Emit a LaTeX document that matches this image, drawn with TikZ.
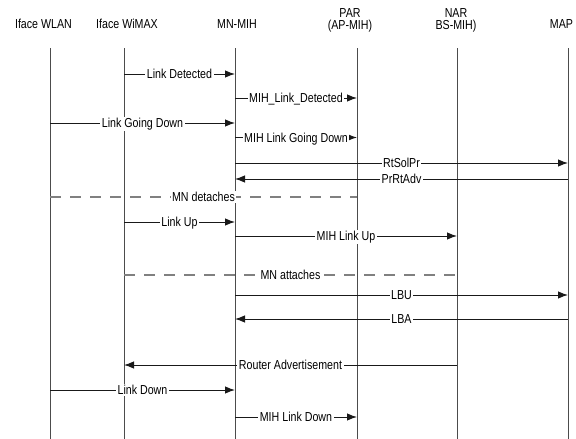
\documentclass[tikz,border=0pt]{standalone}
\usepackage{fontspec}
\setmainfont{Liberation Sans}[FakeStretch=0.82]
\usetikzlibrary{arrows.meta}
\tikzset{
  life/.style={draw=black!70, line width=1pt},
  msg/.style={draw=black!90, line width=1pt, -{Latex[length=10pt,width=7.5pt]}},
  sep/.style={draw=black!50, line width=1.6pt, dash pattern=on 11pt off 9pt},
  lbl/.style={fill=white, inner xsep=1.5pt, inner ysep=1pt, anchor=base, yshift=-4.6pt, font=\fontsize{13}{13}\selectfont},
  head/.style={inner sep=0pt, align=center, font=\fontsize{13}{12.5}\selectfont}
}
\begin{document}
\begin{tikzpicture}[x=1pt,y=-1pt]
\useasboundingbox (0,0) rectangle (576,439);
% headers
\node[head] (hwlan) at (43.5,24) {Iface WLAN};
\node[head] (hwimax) at (127,24) {Iface WiMAX};
\node[head] (hmn) at (237,24) {MN-MIH};
\node[head] (hpar) at (350,20.5) {PAR\\(AP-MIH)};
\node[head] (hnar) at (456,20.5) {NAR\\BS-MIH)};
\node[head] (hmap) at (561.5,24) {MAP};
% lifelines
\coordinate (wlan) at (50,48);
\coordinate (wimax) at (124,48);
\coordinate (mn) at (235,48);
\coordinate (par) at (357,48);
\coordinate (nar) at (457,48);
\coordinate (map) at (568,48);
\coordinate (bot) at (0,439);
\foreach \l in {wlan,wimax,mn,par,nar,map}
  \draw[life] (\l) -- (\l |- bot);
% messages
\draw[msg] (wimax |- 0,74) -- node[lbl]{Link Detected} (mn |- 0,74);
\draw[msg] (mn |- 0,98) -- node[lbl]{MIH\_Link\_Detected} (par |- 0,98);
\draw[msg] (wlan |- 0,123) -- node[lbl]{Link Going Down} (mn |- 0,123);
\draw[msg] (mn |- 0,137.5) -- node[lbl]{MIH Link Going Down} (par |- 0,137.5);
\draw[msg] (mn |- 0,163) -- node[lbl]{RtSolPr} (map |- 0,163);
\draw[msg] (map |- 0,179) -- node[lbl]{PrRtAdv} (mn |- 0,179);
\draw[sep] (wlan |- 0,197) -- node[lbl]{MN detaches} (par |- 0,197);
\draw[msg] (wimax |- 0,222) -- node[lbl]{Link Up} (mn |- 0,222);
\draw[msg] (mn |- 0,236) -- node[lbl]{MIH Link Up} (nar |- 0,236);
\draw[sep] (wimax |- 0,275) -- node[lbl]{MN attaches} (nar |- 0,275);
\draw[msg] (mn |- 0,295) -- node[lbl]{LBU} (map |- 0,295);
\draw[msg] (map |- 0,319) -- node[lbl]{LBA} (mn |- 0,319);
\draw[msg] (nar |- 0,365) -- node[lbl]{Router Advertisement} (wimax |- 0,365);
\draw[msg] (wlan |- 0,390) -- node[lbl]{Link Down} (mn |- 0,390);
\draw[msg] (mn |- 0,417) -- node[lbl]{MIH Link Down} (par |- 0,417);
\end{tikzpicture}
\end{document}
